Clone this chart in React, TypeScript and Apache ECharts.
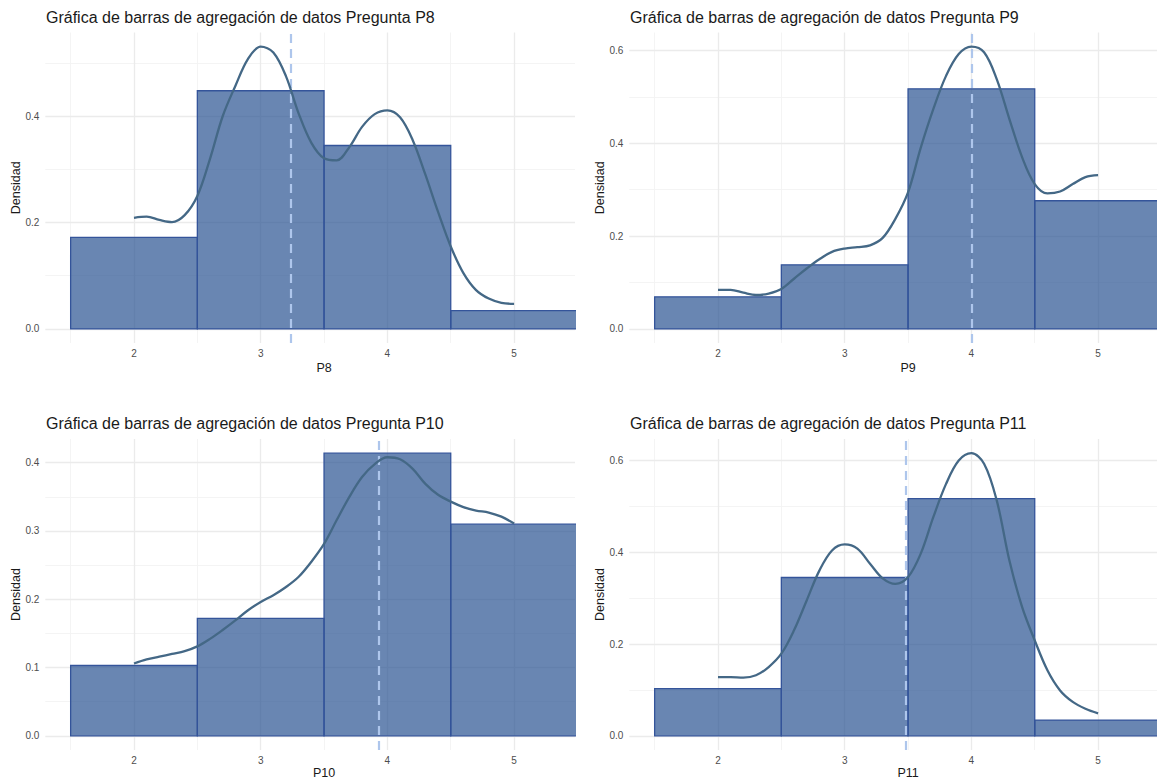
import React, { useEffect, useRef } from "react";
import * as echarts from "echarts";

// ---------- data ----------
const questions = ["P8", "P9", "P10", "P11"];
const binEdges = [1.5, 2.5, 3.5, 4.5, 5.5];

const histP8 = [0.172, 0.448, 0.345, 0.0345];
const histP9 = [0.069, 0.138, 0.517, 0.276];
const histP10 = [0.103, 0.172, 0.414, 0.31];
const histP11 = [0.103, 0.345, 0.517, 0.0345];

const curveX = [
  2.0, 2.1, 2.2, 2.3, 2.4, 2.5, 2.6, 2.7, 2.8, 2.9, 3.0, 3.1, 3.2, 3.3, 3.4, 3.5,
  3.6, 3.7, 3.8, 3.9, 4.0, 4.1, 4.2, 4.3, 4.4, 4.5, 4.6, 4.7, 4.8, 4.9, 5.0,
];
const curveP8 = [
  0.209, 0.211, 0.205, 0.201, 0.214, 0.25, 0.32, 0.4, 0.457, 0.508, 0.531, 0.52,
  0.475, 0.405, 0.35, 0.321, 0.317, 0.342, 0.38, 0.404, 0.411, 0.398, 0.355, 0.29,
  0.22, 0.155, 0.105, 0.073, 0.057, 0.049, 0.047,
];
const curveP9 = [
  0.084, 0.084, 0.078, 0.073, 0.076, 0.086, 0.108, 0.13, 0.15, 0.166, 0.173,
  0.176, 0.18, 0.196, 0.237, 0.294, 0.39, 0.474, 0.545, 0.592, 0.608, 0.596,
  0.538, 0.452, 0.37, 0.312, 0.292, 0.296, 0.312, 0.327, 0.331,
];
const curveP10 = [
  0.106, 0.112, 0.116, 0.12, 0.124, 0.131, 0.142, 0.155, 0.169, 0.184, 0.196,
  0.206, 0.218, 0.233, 0.255, 0.281, 0.316, 0.35, 0.379, 0.398, 0.408, 0.405,
  0.391, 0.369, 0.353, 0.343, 0.335, 0.33, 0.327, 0.321, 0.311,
];
const curveP11 = [
  0.128, 0.128, 0.127, 0.132, 0.15, 0.179, 0.23, 0.295, 0.36, 0.404, 0.417,
  0.408, 0.375, 0.343, 0.331, 0.346, 0.397, 0.477, 0.549, 0.6, 0.616, 0.593,
  0.513, 0.382, 0.281, 0.208, 0.143, 0.099, 0.074, 0.059, 0.049,
];

const means = [3.24, 4.0, 3.93, 3.48];

const xTicks = [2, 3, 4, 5];
const xMinor = [1.5, 2.5, 3.5, 4.5];
const yTicks = [
  [0, 0.2, 0.4],
  [0, 0.2, 0.4, 0.6],
  [0, 0.1, 0.2, 0.3, 0.4],
  [0, 0.2, 0.4, 0.6],
];
const yMinor = [
  [0.1, 0.3, 0.5],
  [0.1, 0.3, 0.5],
  [0.05, 0.15, 0.25, 0.35],
  [0.1, 0.3, 0.5],
];

const hists = [histP8, histP9, histP10, histP11];
const curves = [curveP8, curveP9, curveP10, curveP11];

// ---------- layout ----------
const W = 1157;
const H = 779;
const UNIT = 126.7; // px per x unit
const PLOT_LEFT = [45.3, 629.3, 45.3, 629.3];
const VIS_RIGHT = [575, 1157, 575, 1157];
const PLOT_TOP = [32.5, 32.5, 439, 439];
const PLOT_H = [310.5, 310.5, 311, 311];
const TITLE_TOP = [9, 9, 415, 415];
const XNAME_Y = [367.5, 367.5, 772.5, 772.5];
const YNAME_X = [15.5, 599.5, 15.5, 599.5];

const FONT = "'Liberation Sans', Arial, sans-serif";
const BAR_FILL = "rgba(42, 82, 146, 0.7)";
const BAR_STROKE = "#34549a";
const CURVE = "#446886";
const MEAN = "#aec6ec";
const GRID_MAJOR = "#ebebeb";
const GRID_MINOR = "#f3f3f3";

export default function App() {
  const ref = useRef<HTMLDivElement>(null);

  useEffect(() => {
    if (!ref.current) return;
    const chart = echarts.init(ref.current, undefined, { renderer: "svg" });

    const xRangeMin = binEdges[0] - 0.05 * (binEdges[binEdges.length - 1] - binEdges[0]);
    const xFull = (binEdges[binEdges.length - 1] - binEdges[0]) * 1.1;

    const grids: any[] = [];
    const xAxes: any[] = [];
    const yAxes: any[] = [];
    const series: any[] = [];
    const titles: any[] = [];
    const graphics: any[] = [];

    questions.forEach((q, i) => {
      const M = Math.max(...hists[i], ...curves[i]);
      const width = VIS_RIGHT[i] - PLOT_LEFT[i];
      grids.push({
        left: PLOT_LEFT[i],
        top: PLOT_TOP[i],
        width,
        height: PLOT_H[i],
        containLabel: false,
      });
      xAxes.push({
        type: "value",
        gridIndex: i,
        min: xRangeMin,
        max: xRangeMin + width / UNIT,
        axisLine: { show: false },
        axisTick: { show: false },
        splitLine: { show: false },
        axisLabel: {
          customValues: xTicks,
          margin: 5,
          color: "#4d4d4d",
          fontSize: 10,
          fontFamily: FONT,
          formatter: (v: number) => String(v),
        },
      });
      yAxes.push({
        type: "value",
        gridIndex: i,
        min: -0.05 * M,
        max: 1.05 * M,
        axisLine: { show: false },
        axisTick: { show: false },
        splitLine: { show: false },
        axisLabel: {
          customValues: yTicks[i],
          margin: 6,
          color: "#4d4d4d",
          fontSize: 10,
          fontFamily: FONT,
          formatter: (v: number) => v.toFixed(1),
        },
      });

      const gridLines: any[] = [];
      xMinor.forEach((v) =>
        gridLines.push({ xAxis: v, lineStyle: { color: GRID_MINOR, width: 0.9, type: "solid" } })
      );
      yMinor[i].forEach((v) =>
        gridLines.push({ yAxis: v, lineStyle: { color: GRID_MINOR, width: 0.9, type: "solid" } })
      );
      xTicks.forEach((v) =>
        gridLines.push({ xAxis: v, lineStyle: { color: GRID_MAJOR, width: 1.3, type: "solid" } })
      );
      yTicks[i].forEach((v) =>
        gridLines.push({ yAxis: v, lineStyle: { color: GRID_MAJOR, width: 1.3, type: "solid" } })
      );

      series.push({
        type: "line",
        xAxisIndex: i,
        yAxisIndex: i,
        data: [],
        z: 1,
        silent: true,
        markLine: {
          z: 1,
          silent: true,
          symbol: ["none", "none"],
          label: { show: false },
          emphasis: { disabled: true },
          animation: false,
          data: gridLines,
        },
      });

      const binData = hists[i].map((d, k) => [binEdges[k], binEdges[k + 1], d]);
      series.push({
        type: "custom",
        xAxisIndex: i,
        yAxisIndex: i,
        z: 2,
        clip: true,
        silent: true,
        encode: { x: [0, 1], y: 2 },
        data: binData,
        renderItem: (params: any, api: any) => {
          const p0 = api.coord([api.value(0), api.value(2)]);
          const p1 = api.coord([api.value(1), 0]);
          return {
            type: "rect",
            shape: { x: p0[0], y: p0[1], width: p1[0] - p0[0], height: p1[1] - p0[1] },
            style: { fill: BAR_FILL, stroke: BAR_STROKE, lineWidth: 1.3 },
          };
        },
      });

      series.push({
        type: "line",
        xAxisIndex: i,
        yAxisIndex: i,
        data: [],
        z: 3,
        silent: true,
        markLine: {
          z: 3,
          silent: true,
          symbol: ["none", "none"],
          label: { show: false },
          emphasis: { disabled: true },
          animation: false,
          data: [{ xAxis: means[i], lineStyle: { color: MEAN, width: 2.2, type: [9, 6] } }],
        },
      });

      series.push({
        type: "line",
        xAxisIndex: i,
        yAxisIndex: i,
        z: 4,
        silent: true,
        smooth: 0.35,
        showSymbol: false,
        symbol: "none",
        lineStyle: { color: CURVE, width: 2.3 },
        data: curveX.map((x, k) => [x, curves[i][k]]),
      });

      titles.push({
        text: "Gráfica de barras de agregación de datos Pregunta " + q,
        left: PLOT_LEFT[i] + 0.7,
        top: TITLE_TOP[i],
        padding: 0,
        textStyle: {
          fontFamily: FONT,
          fontSize: 16,
          fontWeight: "normal",
          color: "#1a1a1a",
        },
      });

      graphics.push({
        type: "text",
        x: PLOT_LEFT[i] + (xFull * UNIT) / 2,
        y: XNAME_Y[i],
        style: {
          text: q,
          fontFamily: FONT,
          fontSize: 12.5,
          fill: "#1a1a1a",
          textAlign: "center",
          textVerticalAlign: "middle",
        },
      });
      graphics.push({
        type: "text",
        x: YNAME_X[i],
        y: PLOT_TOP[i] + PLOT_H[i] / 2,
        rotation: Math.PI / 2,
        style: {
          text: "Densidad",
          fontFamily: FONT,
          fontSize: 12.5,
          fill: "#1a1a1a",
          textAlign: "center",
          textVerticalAlign: "middle",
        },
      });
    });

    chart.setOption({
      animation: false,
      backgroundColor: "#ffffff",
      title: titles,
      grid: grids,
      xAxis: xAxes,
      yAxis: yAxes,
      series,
      graphic: graphics,
    });

    return () => chart.dispose();
  }, []);

  return (
    <div
      ref={ref}
      style={{ position: "absolute", left: 0, top: 0, width: W, height: H, background: "#fff" }}
    />
  );
}
